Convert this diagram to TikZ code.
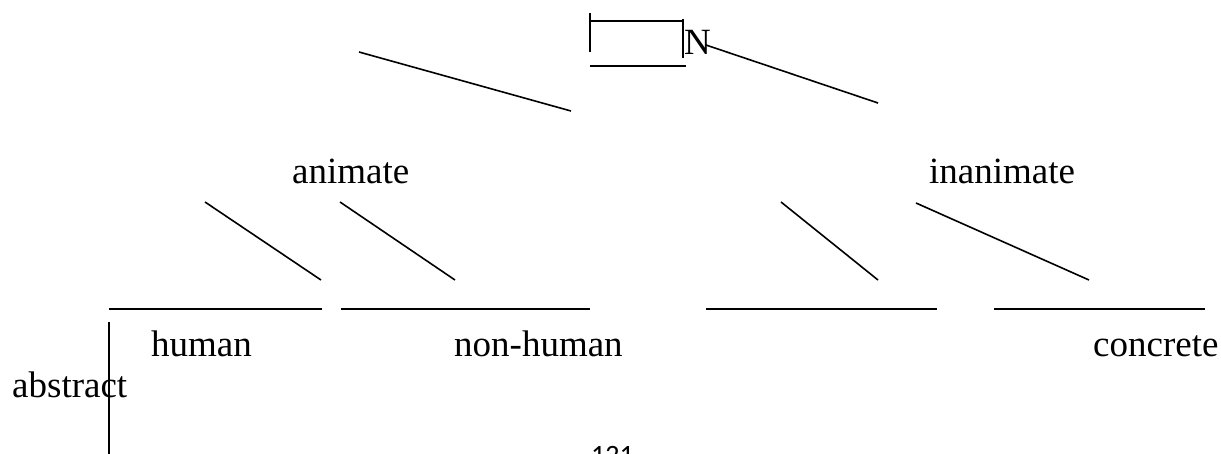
\documentclass[tikz,border=0pt]{standalone}
\usepackage{fontspec}
\setmainfont{Liberation Serif}
\newfontfamily\pagefont{Carlito}
\begin{document}
\begin{tikzpicture}[x=1pt,y=-1pt,
  rule/.style={line width=1.6pt, line cap=butt},
  word/.style={inner sep=0pt, anchor=base west, font=\fontsize{37}{40}\selectfont}]
\useasboundingbox (0,0) rectangle (1221,453);
\clip (0,0) rectangle (1221,453);

% labels
\node[word] (n)     at (684,54)   {N};
\node[word] (anim)  at (292,183)  {animate};
\node[word] (inan)  at (929,183)  {inanimate};
\node[word] (hum)   at (151,356)  {human};
\node[word] (nhum)  at (454,356)  {non-human};
\node[word] (conc)  at (1093,356) {concrete};
\node[word] (abst)  at (12,397)   {abstract};
\node[inner sep=0pt, anchor=base west, font=\pagefont\fontsize{28}{30}\selectfont] (page) at (591,464) {121};

% frame around the root
\coordinate (bl1) at (590,13);  \coordinate (bl2) at (590,52);
\coordinate (bt1) at (590,21);  \coordinate (bt2) at (683,21);
\coordinate (br1) at (683,19);  \coordinate (br2) at (683,58);
\coordinate (bb1) at (590,66);  \coordinate (bb2) at (686,66);
\draw[rule] (bl1) -- (bl2);
\draw[rule] (bt1) -- (bt2);
\draw[rule] (br1) -- (br2);
\draw[rule] (bb1) -- (bb2);

% first level branches
\coordinate (tl1) at (359,52);  \coordinate (tl2) at (571,111);
\coordinate (tr1) at (706,45);  \coordinate (tr2) at (878,103);
\draw[rule] (tl1) -- (tl2);
\draw[rule] (tr1) -- (tr2);

% second level branches
\coordinate (a1) at (205,202);  \coordinate (a2) at (321,280);
\coordinate (b1) at (340,202);  \coordinate (b2) at (455,280);
\coordinate (c1) at (781,202);  \coordinate (c2) at (878,280);
\coordinate (d1) at (916,203);  \coordinate (d2) at (1089,280);
\draw[rule] (a1) -- (a2);
\draw[rule] (b1) -- (b2);
\draw[rule] (c1) -- (c2);
\draw[rule] (d1) -- (d2);

% leaf rules
\coordinate (h1) at (109,309);  \coordinate (h2) at (322,309);
\coordinate (i1) at (341,309);  \coordinate (i2) at (590,309);
\coordinate (j1) at (706,309);  \coordinate (j2) at (937,309);
\coordinate (k1) at (994,309);  \coordinate (k2) at (1205,309);
\draw[rule] (h1) -- (h2);
\draw[rule] (i1) -- (i2);
\draw[rule] (j1) -- (j2);
\draw[rule] (k1) -- (k2);

% vertical bar at the left
\coordinate (v1) at (109,322);  \coordinate (v2) at (109,460);
\draw[rule] (v1) -- (v2);
\end{tikzpicture}
\end{document}
